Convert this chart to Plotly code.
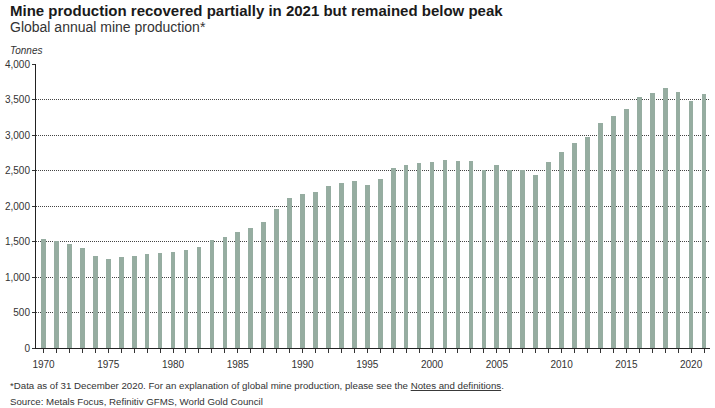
import plotly.graph_objects as go

years = list(range(1970, 2022))
production = [1541, 1513, 1471, 1410, 1302, 1255, 1288, 1302, 1330, 1344,
              1358, 1386, 1424, 1527, 1570, 1640, 1687, 1781, 1955, 2106,
              2172, 2200, 2275, 2327, 2350, 2289, 2383, 2539, 2576, 2609,
              2623, 2651, 2632, 2637, 2505, 2571, 2505, 2505, 2435, 2618,
              2764, 2881, 2966, 3173, 3267, 3371, 3530, 3591, 3662, 3611,
              3484, 3573]
y_ticks = [0, 500, 1000, 1500, 2000, 2500, 3000, 3500, 4000]
y_tick_labels = ["0", "500", "1,000", "1,500", "2,000", "2,500", "3,000", "3,500", "4,000"]

title = "<b>Mine production recovered partially in 2021 but remained below peak</b>"
subtitle = "Global annual mine production*"
unit = "<i>Tonnes</i>"
footnote = "*Data as of 31 December 2020. For an explanation of global mine production, please see the <u>Notes and definitions</u>."
source = "Source: Metals Focus, Refinitiv GFMS, World Gold Council"

W, H = 715, 408
L, R, T, B = 33, 5, 64, 60
ph = H - T - B
pw = W - L - R

def px(x):
    return (x - L) / pw

def py(y):
    return (H - B - y) / ph

FONT = "Liberation Sans, Arial, sans-serif"

fig = go.Figure()
fig.add_trace(go.Bar(x=years, y=production, width=0.36,
                     marker=dict(color="#96ada1", line=dict(width=0))))

fig.update_layout(
    width=W, height=H,
    margin=dict(l=L, r=R, t=T, b=B),
    paper_bgcolor="white", plot_bgcolor="white",
    font=dict(family=FONT, color="#333333"),
    showlegend=False,
    bargap=0,
    xaxis=dict(range=[1969.42, 2021.46], tickmode="linear", tick0=1970, dtick=5,
               ticks="outside", ticklen=4, tickcolor="#333", tickwidth=1,
               showline=True, linecolor="#222", linewidth=1,
               showgrid=False, zeroline=False, ticklabelstandoff=3,
               tickfont=dict(size=10, color="#333"),
               minor=dict(dtick=1, tick0=1970, ticks="outside", ticklen=4,
                          tickcolor="#333", showgrid=False)),
    yaxis=dict(range=[0, 4000], tickmode="array", tickvals=y_ticks, ticktext=y_tick_labels,
               ticks="outside", ticklen=3, tickcolor="#333",
               showline=True, linecolor="#222", linewidth=1,
               showgrid=True, gridcolor="#444", griddash="1px,1px", gridwidth=1,
               zeroline=False, tickfont=dict(size=10, color="#333")),
)

ann = [
    (title, 5, 11, 15, "#1a1a1a"),
    (subtitle, 5, 27, 14, "#333333"),
    (unit, 5, 51, 10, "#333333"),
    (footnote, 5, 385, 9.7, "#333333"),
    (source, 5, 401, 9.7, "#333333"),
]
for text, x, y, size, color in ann:
    fig.add_annotation(text=text, xref="paper", yref="paper", x=px(x), y=py(y),
                       xanchor="left", yanchor="middle", showarrow=False,
                       font=dict(size=size, color=color, family=FONT))

fig.write_html("out.html", config={"displayModeBar": False},
               post_script="document.body.style.margin='0';document.body.style.overflow='hidden';")
